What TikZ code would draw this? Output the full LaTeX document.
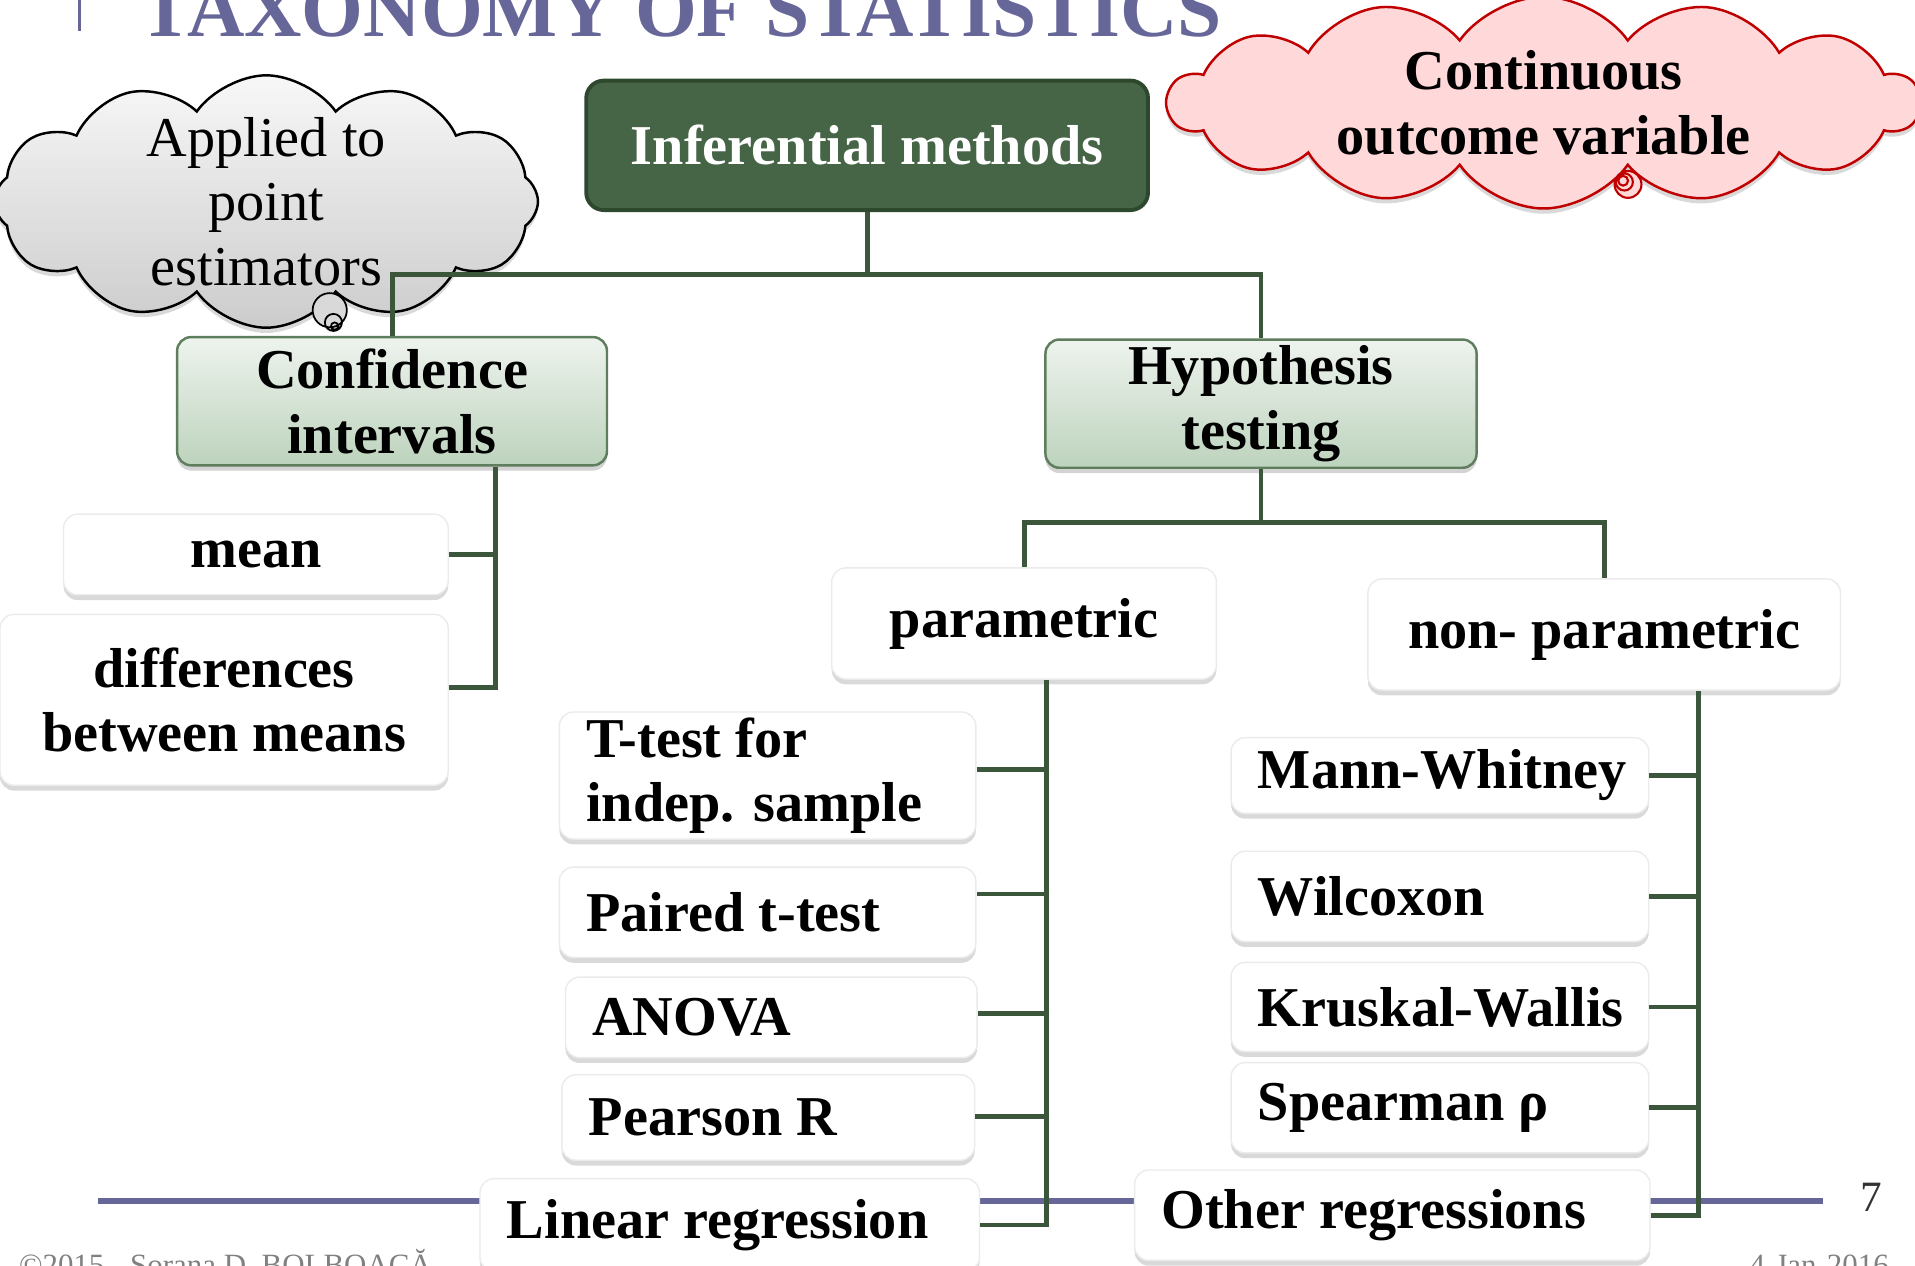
\documentclass[tikz,border=0pt]{standalone}
\usepackage{fontspec}
\setmainfont{Liberation Serif}
\usetikzlibrary{shapes.symbols,shadows,calc}
\definecolor{titlec}{HTML}{666699}
\definecolor{lineG}{HTML}{3B563B}
\definecolor{topG}{HTML}{466446}
\definecolor{topGD}{HTML}{2E482E}
\definecolor{catTop}{HTML}{EEF3EE}
\definecolor{catBot}{HTML}{BDD3BD}
\definecolor{catD}{HTML}{5E7E5E}
\definecolor{pinkF}{HTML}{FFD9DA}
\definecolor{pinkD}{HTML}{C00000}
\newlength\pxu
\setlength\pxu{0.012213cm}
\newcommand{\bigf}{\fontsize{16}{18.4}\selectfont\bfseries}
\exhyphenpenalty=10000
\hyphenpenalty=10000

\begin{document}
\begin{tikzpicture}[x=0.012213cm, y=-0.012213cm,
  link/.style={lineG, line width=1.4pt},
  box/.style={rounded corners=4pt, font=\bigf, inner sep=0pt, align=center},
  topbox/.style={box, fill=topG, draw=topGD, line width=1.1pt, text=white, rounded corners=5pt},
  catbox/.style={box, top color=catTop, bottom color=catBot, draw=catD, line width=.7pt, drop shadow={opacity=.35, shadow xshift=0pt, shadow yshift=-1.5pt}},
  leaf/.style={box, fill=white, draw=black!8, line width=.4pt, drop shadow={opacity=.3, shadow xshift=0pt, shadow yshift=-1.5pt}},
  leafL/.style={leaf, align=flush left, inner xsep=22\pxu},
  bubble/.style={cloud, cloud puffs=#1, cloud puff arc=110, cloud ignores aspect, inner sep=0pt, align=center, line width=.7pt, drop shadow={opacity=.3, shadow xshift=0pt, shadow yshift=-1.5pt}}]
\useasboundingbox (0,0) rectangle (1568,1036);
% title and footer
\draw[titlec, line width=.8pt] (65,-10) -- (65,25);
\node[anchor=base west, inner sep=0pt, text=titlec, font=\fontsize{22.6}{26}\selectfont\bfseries] (title) at (114,30) {TAXONOMY OF STATISTICS};
\draw[titlec, line width=1.7pt] (80,983) -- (1493,983);
\node[anchor=base, inner sep=0pt, text=black!80, font=\fontsize{12.3}{14}\selectfont] (pgnum) at (1532,992) {7};
\node[anchor=base west, inner sep=0pt, text=gray, font=\fontsize{8.8}{10}\selectfont] (copy) at (15,1044) {©2015 - Sorana D. BOLBOACĂ};
\node[anchor=base west, inner sep=0pt, text=gray, font=\fontsize{8.8}{10}\selectfont] (date) at (1432,1044) {4-Jan-2016};
% clouds
\node[bubble=12, inner ysep=-2.5pt, top color=gray!6, bottom color=gray!40, draw=black, minimum width=445\pxu, minimum height=120\pxu, font=\fontsize{16}{18.4}\selectfont] (apt) at (218,165) {Applied to\\point\\estimators};
\filldraw[fill=gray!30, draw=black, line width=.5pt] (270,254) circle[radius=14\pxu] (273,264) circle[radius=7\pxu] (274,267) circle[radius=3\pxu];
\node[bubble=14, fill=pinkF, draw=pinkD, minimum width=615\pxu, minimum height=84\pxu, font=\bigf] (cov) at (1264,84) {Continuous\\outcome variable};
\filldraw[fill=pinkF, draw=pinkD, line width=.6pt] (1333,151) circle[radius=11\pxu] (1330,149) circle[radius=7\pxu] (1329,148) circle[radius=4\pxu];
% tree
\node[topbox, minimum width=460\pxu, minimum height=106\pxu] (inf) at (710,119) {Inferential methods};
\node[catbox, minimum width=352\pxu, minimum height=105\pxu] (ci) at (321,328.5) {Confidence\\intervals};
\node[catbox, minimum width=353\pxu, minimum height=105\pxu] (ht) at (1032.5,330.5) {Hypothesis\\testing};
\node[leaf, minimum width=315\pxu, minimum height=66\pxu] (mean) at (209.5,454) {mean};
\node[leaf, minimum width=367\pxu, minimum height=140\pxu] (diff) at (183.5,573) {differences\\between means};
\node[leaf, minimum width=315\pxu, minimum height=91\pxu] (par) at (838.5,510.5) {parametric};
\node[leaf, minimum width=387\pxu, minimum height=91\pxu] (npar) at (1313.5,519.5) {non- parametric};
\node[leafL, text width=297\pxu, minimum height=104\pxu] (ttest) at (628.5,635) {T-test for\\indep. sample};
\node[leafL, text width=297\pxu, minimum height=74\pxu] (paired) at (628.5,747) {Paired t-test};
\node[leafL, text width=293\pxu, minimum height=66\pxu] (anova) at (631.5,833) {ANOVA};
\node[leafL, text width=294\pxu, minimum height=70\pxu] (pearson) at (629,915) {Pearson R};
\node[leafL, text width=365\pxu, minimum height=76\pxu] (linreg) at (597.5,1003) {Linear regression};
\node[leafL, text width=298\pxu, minimum height=62\pxu] (mw) at (1179,635) {Mann-Whitney};
\node[leafL, text width=298\pxu, minimum height=74\pxu] (wil) at (1179,734) {Wilcoxon};
\node[leafL, text width=298\pxu, minimum height=73\pxu] (kw) at (1179,824.5) {Kruskal-Wallis};
\node[leafL, text width=298\pxu, minimum height=74\pxu] (spr) at (1179,907) {Spearman ρ};
\node[leafL, text width=378\pxu, minimum height=74\pxu] (other) at (1140,995) {Other regressions};
% connectors
\draw[link] (inf.south) -- ++(0,51) coordinate (j1);
\draw[link] (ci.north) |- (j1) -| (ht.north);
\draw[link] (ht.south) -- ++(0,44) coordinate (j2);
\draw[link] (par.north) |- (j2) -| (npar.north);
\coordinate (cistem) at ($(ci.south)+(85,0)$);
\draw[link] (cistem) |- ($(diff.east)+(0,-10)$);
\draw[link] (mean.east) -- (mean.east -| cistem);
\coordinate (parstem) at ($(par.south)+(18,0)$);
\draw[link] (parstem) |- (linreg.east);
\foreach \n/\dy in {ttest/-5,paired/-15,anova/-3,pearson/-1}
  \draw[link] ($(\n.east)+(0,\dy)$) coordinate (s) -- (s -| parstem);
\coordinate (npstem) at ($(npar.south)+(77,0)$);
\draw[link] (npstem) |- (other.east);
\foreach \n in {mw,wil,kw,spr}
  \draw[link] (\n.east) -- (\n.east -| npstem);
\end{tikzpicture}
\end{document}
